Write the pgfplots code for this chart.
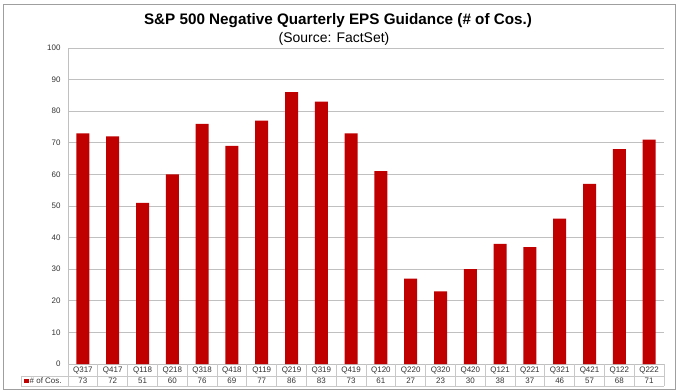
\documentclass[border=0pt]{standalone}
\usepackage{pgfplots}
\pgfplotsset{compat=1.18}
\usepackage{pgfplotstable}
\usepackage{fontspec}
\setmainfont{Liberation Sans}
\definecolor{barred}{HTML}{C00000}
\definecolor{gridc}{HTML}{C0C0C0}
\definecolor{tabc}{HTML}{C8C8C8}
\pgfplotstableread{
cat val
Q317 73
Q417 72
Q118 51
Q218 60
Q318 76
Q418 69
Q119 77
Q219 86
Q319 83
Q419 73
Q120 61
Q220 27
Q320 23
Q420 30
Q121 38
Q221 37
Q321 46
Q421 57
Q122 68
Q222 71
}\data
\begin{document}
\begin{tikzpicture}[x=1bp,y=1bp]
\useasboundingbox (0,0) rectangle (679,391);
\draw[gray!75, line width=0.9bp] (3,2) rectangle (675,387);
\node[anchor=base, inner sep=0pt, font=\bfseries\fontsize{15.3}{17}\selectfont] at (338,367) {S\&P 500 Negative Quarterly EPS Guidance (\# of Cos.)};
\node[anchor=base, inner sep=0pt, font=\fontsize{14}{16}\selectfont] at (334,349) {(Source: FactSet)};
\begin{axis}[
  at={(68bp,27bp)}, anchor=south west,
  width=596bp, height=316bp, scale only axis,
  xmin=-0.5, xmax=19.5, ymin=0, ymax=100,
  ytick={0,10,...,100},
  xtick=data,
  xticklabels from table={\data}{cat},
  xticklabel style={anchor=center, yshift=-6bp, font=\fontsize{8}{9}\selectfont, text=black!80},
  yticklabel style={font=\fontsize{8}{9}\selectfont, text=black!80, xshift=-4bp},
  major tick length=0pt,
  axis lines*=left,
  axis line style={gridc, line width=0.9bp},
  ymajorgrids, grid style={gridc, line width=0.9bp},
  clip=false,
  /pgf/number format/assume math mode=true,
]
\addplot[ybar, bar width=13bp, bar shift=0pt, fill=barred, draw=none] table[x expr=\coordindex, y=val] {\data};
\addplot[only marks, mark=none, point meta=explicit,
  nodes near coords={\pgfmathprintnumber{\pgfplotspointmeta}},
  every node near coord/.append style={anchor=center, font=\fontsize{8}{9}\selectfont, text=black!80}]
  table[x expr=\coordindex, y expr=-5.25, meta=val] {\data};
\end{axis}
% data table grid
\foreach \k in {0,...,20} {
  \draw[tabc, line width=0.8bp] ({68+\k*29.8},27) -- ({68+\k*29.8},5);
}
\draw[tabc, line width=0.8bp] (21,15) -- (664,15);
\draw[tabc, line width=0.8bp] (21,5) -- (664,5);
\draw[tabc, line width=0.8bp] (21,15) -- (21,5);
\fill[barred] (24,7.8) rectangle (28.5,12.3);
\node[anchor=west, font=\fontsize{8}{9}\selectfont, text=black!80, inner sep=0pt] at (29.5,10) {\# of Cos.};
\end{tikzpicture}
\end{document}
